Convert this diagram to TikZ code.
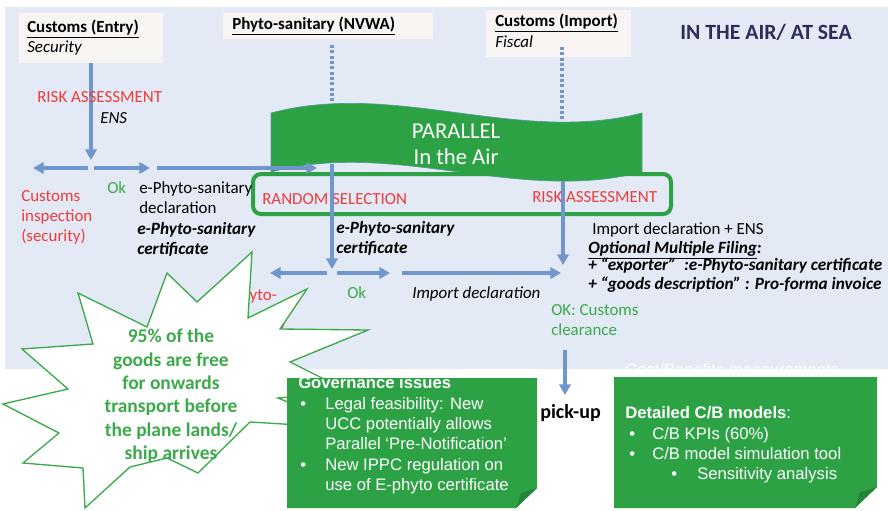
\documentclass[tikz,border=0pt]{standalone}
\usepackage{fontspec}
\setmainfont{Carlito}
\newfontfamily\arialf{Liberation Sans}
\usetikzlibrary{arrows.meta}
\definecolor{bgblue}{HTML}{E3EAF5}
\definecolor{boxw}{HTML}{F8F4F2}
\definecolor{arr}{HTML}{7096CB}
\definecolor{grn}{HTML}{2CA245}
\definecolor{grnd}{HTML}{23843A}
\definecolor{rd}{HTML}{EE3B3B}
\definecolor{gtxt}{HTML}{3BAA4B}
\definecolor{navy}{HTML}{2D2D57}
\begin{document}
\begin{tikzpicture}[x=0.75pt,y=-0.75pt,
  txt/.style={inner sep=0pt, anchor=base west, font=\fontsize{12.7}{15}\selectfont},
  redt/.style={txt, text=rd},
  grnt/.style={txt, text=gtxt},
  bit/.style={txt, font=\fontsize{12.9}{15}\selectfont\bfseries\itshape},
  topbox/.style={fill=boxw, inner sep=0pt},
  flow/.style={draw=arr, line width=2.3pt, -{Triangle[length=8pt,width=8.5pt]}},
  dotline/.style={draw=arr, line width=2.3pt, dash pattern=on 2.2pt off 1.8pt},
  gbtxt/.style={inner sep=0pt, anchor=base west, text=white, font=\arialf\fontsize{12.5}{15}\selectfont},
  startxt/.style={align=center, text=gtxt, font=\fontsize{14.6}{17.5}\selectfont\bfseries}]
\fill[white] (0,0) rectangle (888,510);
\useasboundingbox (0,0) rectangle (888,510);
\fill[bgblue] (5,7) rectangle (888,369);

% top boxes
\node[topbox, minimum width=108pt, minimum height=37.5pt] (entry) at (91,38) {};
\node[topbox, minimum width=157.5pt, minimum height=19.5pt] (nvwa) at (328,26) {};
\node[topbox, minimum width=108.75pt, minimum height=35.25pt] (import) at (558.5,33.5) {};
\node[txt, font=\fontsize{12.7}{15}\selectfont\bfseries] (entryT) at (27,33) {\underline{Customs (Entry)}};
\node[txt, font=\fontsize{12.7}{15}\selectfont\itshape] (entryS) at (27,53) {Security};
\node[txt, font=\fontsize{12.7}{15}\selectfont\bfseries] (nvwaT) at (232,30) {\underline{Phyto-sanitary (NVWA)}};
\node[txt, font=\fontsize{12.7}{15}\selectfont\bfseries] (importT) at (495,27) {\underline{Customs (Import)}};
\node[txt, font=\fontsize{12.7}{15}\selectfont\itshape] (importS) at (495,48) {Fiscal};
\node[inner sep=0pt, text=navy, font=\fontsize{16.3}{19}\selectfont\bfseries] (title) at (766,32) {IN THE AIR/ AT SEA};

% dotted lines
\coordinate (d1a) at (332,45); \coordinate (d1b) at (332,112);
\coordinate (d2a) at (562,47); \coordinate (d2b) at (562,122);
\draw[dotline] (d1a) -- (d1b);
\draw[dotline] (d2a) -- (d2b);

% banner
\fill[grn, draw=arr!60!grn, line width=0.5pt] (271,113) .. controls (395,80) and (518,145) .. (642,113)
   -- (642,172) .. controls (518,204) and (395,139) .. (271,172) -- cycle;
\node[inner sep=0pt, text=white, font=\fontsize{17}{20}\selectfont] (par1) at (456,131) {PARALLEL};
\node[inner sep=0pt, text=white, font=\fontsize{17}{20}\selectfont] (par2) at (456,157) {In the Air};

% selection frame
\draw[grn, line width=3pt, rounded corners=6pt] (253,174) rectangle (671,214);
\node[redt] (rsel) at (262,204) {RANDOM SELECTION};
\node[redt] (risk2) at (532,202) {RISK ASSESSMENT};

% red hidden text
\node[redt, align=left, anchor=north west, font=\fontsize{12.7}{20}\selectfont] (phyinsp) at (232,288) {Phyto-\\sanitary\\inspection};

% arrows
\coordinate (a1) at (91,160);
\draw[flow] (entry.south) -- (a1);
\coordinate (h1a) at (88,168); \coordinate (h1b) at (33,168);
\coordinate (h2a) at (94,168); \coordinate (h2b) at (150,168);
\coordinate (h3a) at (157,168); \coordinate (h3b) at (317,168);
\draw[flow] (h1a) -- (h1b);
\draw[flow] (h2a) -- (h2b);
\draw[flow] (h3a) -- (h3b);
\coordinate (v2a) at (332,164); \coordinate (v2b) at (332,269);
\draw[flow] (v2a) -- (v2b);
\coordinate (h4a) at (327,273); \coordinate (h4b) at (270,273);
\coordinate (h5a) at (337,273); \coordinate (h5b) at (390,273);
\coordinate (h6a) at (402,273); \coordinate (h6b) at (561,273);
\draw[flow] (h4a) -- (h4b);
\draw[flow] (h5a) -- (h5b);
\draw[flow] (h6a) -- (h6b);
\coordinate (v3a) at (563,181); \coordinate (v3b) at (563,265);
\draw[flow] (v3a) -- (v3b);
\coordinate (v4a) at (565,350); \coordinate (v4b) at (565,395);
\draw[flow] (v4a) -- (v4b);

% labels
\node[redt] (risk1) at (37,102) {RISK ASSESSMENT};
\node[txt, font=\fontsize{12.7}{15}\selectfont\itshape] (ens) at (100,123) {ENS};
\node[grnt] (ok1) at (107,193) {Ok};
\node[redt] (ci1) at (21,201) {Customs};
\node[redt] (ci2) at (21,221) {inspection};
\node[redt] (ci3) at (21,241) {(security)};
\node[txt] (epd1) at (139,193) {e-Phyto-sanitary};
\node[txt] (epd2) at (139,213) {declaration};
\node[bit] (epc1) at (137,234) {e-Phyto-sanitary};
\node[bit] (epc2) at (137,254) {certificate};
\node[bit] (epc3) at (336,233) {e-Phyto-sanitary};
\node[bit] (epc4) at (336,253) {certificate};
\node[txt] (idens) at (592,234) {Import declaration + ENS};
\node[bit] (omf) at (588,253) {\underline{Optional Multiple Filing}:};
\node[bit] (exp) at (588,270) {+ “exporter”\ \ :e-Phyto-sanitary certificate};
\node[bit] (goods) at (588,289) {+ “goods description” : Pro-forma invoice};
\node[grnt] (ok2) at (347,298) {Ok};
\node[txt, font=\fontsize{12.7}{15}\selectfont\itshape] (impd) at (412,298) {Import declaration};
\node[grnt] (okc1) at (551,315) {OK: Customs};
\node[grnt] (okc2) at (551,335) {clearance};
\node[txt, font=\fontsize{15}{17}\selectfont\bfseries] (pick) at (540,418) {pick-up};

% star
\draw[gtxt, fill=white, line width=1pt, line join=miter]
  (167,273) -- (197,302) -- (252,252) -- (248,318) -- (307,289) -- (280,329) -- (368,330)
  -- (290,362) -- (350,392) -- (278,398) -- (350,428) -- (250,422) -- (198,473) -- (167,458)
  -- (130,467) -- (85,508) -- (83,468) -- (23,463) -- (59,433) -- (3,404) -- (68,389)
  -- (22,349) -- (93,344) -- (78,293) -- (147,327) -- cycle;
\node[startxt] (star) at (171,396) {95\% of the\\goods are free\\for onwards\\transport before\\the plane lands/\\ship arrives};

% white faint text
\node[gbtxt] (cbm) at (625,375) {Cost/Benefits measurements};

% governance box
\fill[grn] (287,378) -- (537,378) -- (537,488) -- (516,508) -- (287,508) -- cycle;
\fill[grnd] (537,488) -- (516,508) -- (521,493) -- cycle;
\node[gbtxt, font=\arialf\fontsize{12.5}{15}\selectfont\bfseries] (gov) at (298,388) {Governance issues};
\node[gbtxt] (gb1) at (300,409) {•};
\node[gbtxt] (g1) at (325,409) {Legal feasibility: New};
\node[gbtxt] (g2) at (325,429) {UCC potentially allows};
\node[gbtxt] (g3) at (325,449) {Parallel ‘Pre-Notification’};
\node[gbtxt] (gb2) at (300,470) {•};
\node[gbtxt] (g4) at (325,470) {New IPPC regulation on};
\node[gbtxt] (g5) at (325,490) {use of E-phyto certificate};

% detailed box
\fill[grn] (614,377) -- (877,377) -- (877,487) -- (855,508) -- (614,508) -- cycle;
\fill[grnd] (877,487) -- (855,508) -- (860,492) -- cycle;
\node[gbtxt] (det) at (625,418) {\textbf{Detailed C/B models}:};
\node[gbtxt] (db1) at (629,439) {•};
\node[gbtxt] (d1) at (652,439) {C/B KPIs (60\%)};
\node[gbtxt] (db2) at (629,459) {•};
\node[gbtxt] (d2) at (652,459) {C/B model simulation tool};
\node[gbtxt] (db3) at (671,479) {•};
\node[gbtxt] (d3) at (697,479) {Sensitivity analysis};
\end{tikzpicture}
\end{document}
